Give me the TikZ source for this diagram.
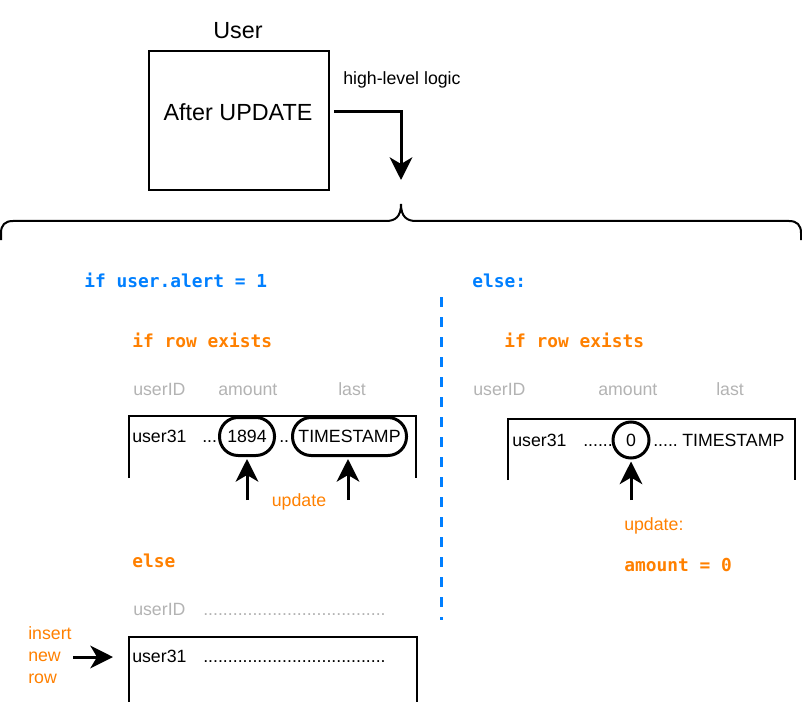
\documentclass[tikz,border=0pt]{standalone}
\usepackage{fontspec}
\setmainfont{Liberation Sans}
\setmonofont{DejaVu Sans Mono}
\usetikzlibrary{arrows.meta}
\definecolor{cblue}{HTML}{007FFF}
\definecolor{corange}{HTML}{FF8000}
\definecolor{cgray}{HTML}{B3B3B3}
\tikzset{
  sans/.style={font=\fontsize{13.3}{16}\selectfont, inner sep=0pt, text height=9.6pt, text depth=0pt},
  big/.style={font=\fontsize{17.5}{21}\selectfont, inner sep=0pt, text height=12.6pt, text depth=0pt},
  code/.style={font=\ttfamily\bfseries\fontsize{13.4}{16}\selectfont, inner sep=0pt, text height=9.6pt, text depth=0pt},
  hdr/.style={sans, text=cgray},
  otxt/.style={sans, text=corange},
  bigarrow/.style={line width=2.25pt, -{Stealth[length=17pt,width=17pt,inset=5pt]}},
  frame/.style={line width=1.5pt},
  pill/.style={draw, line width=2.25pt, rounded corners=14pt, inner sep=0pt, sans},
  ring/.style={draw, circle, line width=2.25pt, inner sep=0pt, minimum size=27pt, sans},
}
\begin{document}
\begin{tikzpicture}[x=0.75pt, y=-0.75pt]
\useasboundingbox (0,0) rectangle (802,702);

% top user box
\node[big] (userlbl) at (238,30) {User};
\node[draw, frame, minimum width=135pt, minimum height=104.25pt, inner sep=0pt] (ubox) at (239,120.5) {};
\node[big] (after) at (238,112) {After UPDATE};
\node[sans, anchor=west] (hll) at (343,78) {high-level logic};
\coordinate (bracetip) at (401,180);
\draw[bigarrow] ([xshift=3pt]ubox.east |- after) -| (bracetip);

% brace
\draw[frame] (1,240) -- (1,233) .. controls (1,225) and (5,221) .. (13,221)
  -- (386,221) .. controls (395,221) and (401,217) .. (401,204)
  .. controls (401,217) and (407,221) .. (416,221)
  -- (789,221) .. controls (797,221) and (801,225) .. (801,233) -- (801,240);

% dashed separator
\coordinate (dtop) at (441,297);
\coordinate (dbot) at (441,620);
\draw[cblue, line width=2.25pt, dash pattern=on 7.5pt off 7.5pt] (dtop) -- (dbot);

% headings
\node[code, text=cblue, anchor=west] (ifalert) at (84,281) {if user.alert = 1};
\node[code, text=cblue, anchor=west] (elsetop) at (472,281) {else:};
\node[code, text=corange, anchor=west] (ifrowL) at (132,341) {if row exists};
\node[code, text=corange, anchor=west] (ifrowR) at (504,341) {if row exists};

% left table
\node[hdr, anchor=west] (hL1) at (133,389) {userID};
\node[hdr, anchor=west] (hL2) at (218,389) {amount};
\node[hdr, anchor=west] (hL3) at (338,389) {last};
\draw[frame] (129,478) -- (129,416) -- (416,416) -- (416,478);
\node[sans, anchor=west] (uL) at (132,436) {user31};
\node[sans, anchor=west] (dL1) at (202,436) {...};
\node[pill, minimum width=41.25pt, minimum height=28.5pt] (v1894) at (247,436.5) {1894};
\node[sans, anchor=west] (dL2) at (279,436) {..};
\node[pill, minimum width=85.5pt, minimum height=28.5pt] (vts) at (349.5,436.5) {TIMESTAMP};
\coordinate (aL1) at (247,500);
\coordinate (aL2) at (348,500);
\draw[bigarrow, shorten >=1.5pt] (aL1) -- (v1894.south);
\draw[bigarrow, shorten >=1.5pt] (aL2) -- (vts.south -| aL2);
\node[otxt] (updL) at (299,500) {update};

% right table
\node[hdr, anchor=west] (hR1) at (473,389) {userID};
\node[hdr, anchor=west] (hR2) at (598,389) {amount};
\node[hdr, anchor=west] (hR3) at (716,389) {last};
\draw[frame] (508,480) -- (508,419) -- (795,419) -- (795,480);
\node[sans, anchor=west] (uR) at (512,440) {user31};
\node[sans, anchor=west] (dR1) at (583,440) {......};
\node[ring] (v0) at (631,440) {0};
\node[sans, anchor=west] (dR2) at (653,440) {.....};
\node[sans, anchor=west] (tsR) at (682,440) {TIMESTAMP};
\coordinate (aR) at (631,500);
\draw[bigarrow, shorten >=1.5pt] (aR) -- (v0.south);
\node[otxt, anchor=west] (updR) at (624,524) {update:};
\node[code, text=corange, anchor=west] (amt0) at (624,565) {amount = 0};

% else: insert
\node[code, text=corange, anchor=west] (elseL) at (132,561) {else};
\node[hdr, anchor=west] (hE1) at (133,609) {userID};
\node[hdr, anchor=west] (hE2) at (203,609) {.....................................};
\draw[frame] (129,702) -- (129,637) -- (417,637) -- (417,702);
\node[sans, anchor=west] (uE) at (132,656) {user31};
\node[sans, anchor=west] (dE) at (203,656) {.....................................};
\node[otxt, anchor=west] (ins1) at (28,633) {insert};
\node[otxt, anchor=west] (ins2) at (28,655) {new};
\node[otxt, anchor=west] (ins3) at (28,677) {row};
\coordinate (insA) at (73,657);
\coordinate (insB) at (113,657);
\draw[bigarrow] (insA) -- (insB);
\end{tikzpicture}
\end{document}
